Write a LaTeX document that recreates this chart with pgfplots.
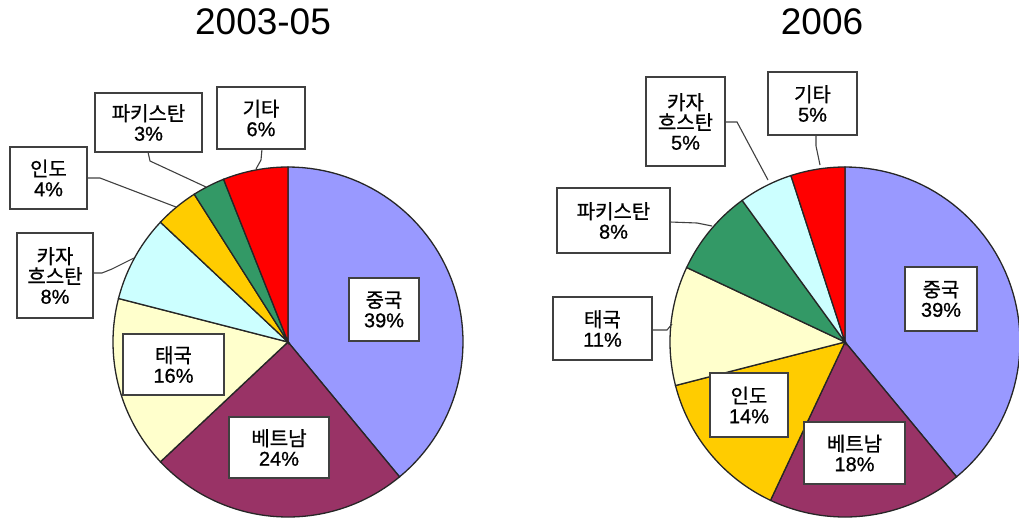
\documentclass[border=0pt]{standalone}
\usepackage{fontspec}
\setmainfont{Liberation Sans}
\newfontfamily\kr[FakeBold=0.8]{Noto Sans CJK KR}
\newfontfamily\lat[FakeBold=0.8]{Liberation Sans}
\usepackage{pgfplots}
\pgfplotsset{compat=1.18}
\definecolor{cChina}{HTML}{9999FF}
\definecolor{cViet}{HTML}{993366}
\definecolor{cThai}{HTML}{FFFFCC}
\definecolor{cKaz}{HTML}{CCFFFF}
\definecolor{cIndia}{HTML}{FFCC00}
\definecolor{cPak}{HTML}{339966}
\definecolor{cOther}{HTML}{FF0000}
% #1 = centre x, #2 = centre y (pixels), #3 = list of percent/colour, clockwise from 12 o'clock
\newcommand{\pie}[3]{%
  \xdef\pstart{0}%
  \foreach \pct/\col in {#3} {%
    \pgfmathsetmacro\pstop{\pstart+\pct}%
    \edef\tmp{\noexpand\addplot[fill=\col, draw=black!85, line width=1.3bp, domain=\pstart:\pstop, samples=60, variable=\noexpand\t, forget plot] ({#1+175*cos(90-3.6*\noexpand\t)},{#2-175*sin(90-3.6*\noexpand\t)}) -- (axis cs:#1,#2) -- cycle;}%
    \tmp
    \xdef\pstart{\pstop}%
  }%
}
\tikzset{lbl/.style={draw=black!75, line width=2bp, fill=white, inner sep=0pt, align=center,
  font=\lat\fontsize{20bp}{20bp}\selectfont},
  lead/.style={draw=black!75, line width=1.1bp}}
\pgfplotsset{pixaxis/.style={scale only axis, width=509.5bp, height=521bp, ymin=0, ymax=521,
  y dir=reverse, hide axis, clip=false, anchor=south west}}
\begin{document}
\begin{tikzpicture}
\useasboundingbox (0,0) rectangle (1019bp,521bp);
% ---------------- 2003-05 ----------------
\begin{axis}[pixaxis, at={(0,0)}, xmin=0, xmax=509.5]
\pie{288}{342}{39/cChina, 24/cViet, 16/cThai, 8/cKaz, 4/cIndia, 3/cPak, 6/cOther}
\node[font=\fontsize{37bp}{37bp}\selectfont] at (axis cs:263,22) {2003-05};
\draw[lead] (axis cs:148,152) -- (axis cs:150,161) -- (axis cs:206,187);
\draw[lead] (axis cs:87,178) -- (axis cs:100,178) -- (axis cs:176,207);
\draw[lead] (axis cs:93,273) -- (axis cs:102,273) -- (axis cs:112,269) -- (axis cs:134,258);
\draw[lead] (axis cs:262,149) -- (axis cs:261,160) -- (axis cs:256,169);
\node[lbl, minimum width=70bp, minimum height=63bp] at (axis cs:384,309.5) {{\kr 중국}\\39\%};
\node[lbl, minimum width=100bp, minimum height=61bp] at (axis cs:279,447.5) {{\kr 베트남}\\24\%};
\node[lbl, minimum width=101bp, minimum height=61bp] at (axis cs:173.5,364.5) {{\kr 태국}\\16\%};
\node[lbl, minimum width=76bp, minimum height=85bp] at (axis cs:55,275.5) {{\kr 카자}\\{\kr 흐스탄}\\8\%};
\node[lbl, minimum width=77bp, minimum height=62bp] at (axis cs:48.5,178) {{\kr 인도}\\4\%};
\node[lbl, minimum width=107bp, minimum height=59bp] at (axis cs:148.5,122.5) {{\kr 파키스탄}\\3\%};
\node[lbl, minimum width=88bp, minimum height=62bp] at (axis cs:261,118) {{\kr 기타}\\6\%};
\end{axis}
% ---------------- 2006 ----------------
\begin{axis}[pixaxis, at={(509.5bp,0)}, xmin=509.5, xmax=1019]
\pie{845}{342}{39/cChina, 18/cViet, 14/cIndia, 11/cThai, 8/cPak, 5/cKaz, 5/cOther}
\node[font=\fontsize{37bp}{37bp}\selectfont] at (axis cs:822,22) {2006};
\draw[lead] (axis cs:725,122) -- (axis cs:737,122) -- (axis cs:768,180);
\draw[lead] (axis cs:816,135) -- (axis cs:816,146) -- (axis cs:820,165);
\draw[lead] (axis cs:670,222) -- (axis cs:697,223) -- (axis cs:712,226);
\draw[lead] (axis cs:652,330) -- (axis cs:667,330) -- (axis cs:672,324);
\node[lbl, minimum width=72bp, minimum height=64bp] at (axis cs:941,299) {{\kr 중국}\\39\%};
\node[lbl, minimum width=101bp, minimum height=62bp] at (axis cs:854.5,453) {{\kr 베트남}\\18\%};
\node[lbl, minimum width=78bp, minimum height=64bp] at (axis cs:749,405) {{\kr 인도}\\14\%};
\node[lbl, minimum width=99bp, minimum height=63bp] at (axis cs:602.5,328.5) {{\kr 태국}\\11\%};
\node[lbl, minimum width=113bp, minimum height=65bp] at (axis cs:613.5,220.5) {{\kr 파키스탄}\\8\%};
\node[lbl, minimum width=79bp, minimum height=89bp] at (axis cs:685.5,121.5) {{\kr 카자}\\{\kr 흐스탄}\\5\%};
\node[lbl, minimum width=89bp, minimum height=63bp] at (axis cs:812.5,103.5) {{\kr 기타}\\5\%};
\end{axis}
\end{tikzpicture}
\end{document}
